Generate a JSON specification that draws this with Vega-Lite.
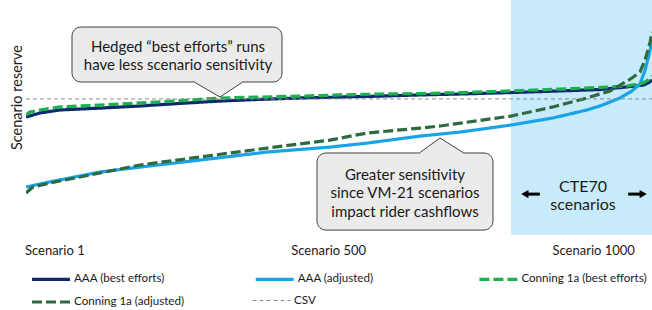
{
  "$schema": "https://vega.github.io/schema/vega-lite/v6.json",
  "width": 626,
  "height": 235,
  "autosize": {"type": "none"},
  "padding": {"left": 26, "top": 0, "right": 0, "bottom": 75},
  "config": {"view": {"stroke": null}, "font": "Lato", "background": "white",
    "legend": {"title": null, "orient": "none", "symbolType": "stroke", "symbolSize": 1444, "labelFont": "Lato", "labelFontSize": 11.6,
      "labelColor": "#1a1a1a", "labelOffset": 2, "labelLimit": 0}},
  "resolve": {"scale": {"color": "independent", "strokeDash": "independent"}},
  "datasets": {
    "series": [
      {"series": "AAA (best efforts)", "scenario": 1, "reserve": 50.2},
      {"series": "AAA (best efforts)", "scenario": 23, "reserve": 51.9},
      {"series": "AAA (best efforts)", "scenario": 55, "reserve": 53.2},
      {"series": "AAA (best efforts)", "scenario": 119, "reserve": 54.0},
      {"series": "AAA (best efforts)", "scenario": 183, "reserve": 54.9},
      {"series": "AAA (best efforts)", "scenario": 247, "reserve": 56.0},
      {"series": "AAA (best efforts)", "scenario": 311, "reserve": 57.0},
      {"series": "AAA (best efforts)", "scenario": 374, "reserve": 57.7},
      {"series": "AAA (best efforts)", "scenario": 438, "reserve": 58.3},
      {"series": "AAA (best efforts)", "scenario": 502, "reserve": 58.7},
      {"series": "AAA (best efforts)", "scenario": 566, "reserve": 59.1},
      {"series": "AAA (best efforts)", "scenario": 630, "reserve": 59.6},
      {"series": "AAA (best efforts)", "scenario": 694, "reserve": 60.0},
      {"series": "AAA (best efforts)", "scenario": 773, "reserve": 60.6},
      {"series": "AAA (best efforts)", "scenario": 853, "reserve": 61.3},
      {"series": "AAA (best efforts)", "scenario": 917, "reserve": 61.9},
      {"series": "AAA (best efforts)", "scenario": 960, "reserve": 63.0},
      {"series": "AAA (best efforts)", "scenario": 986, "reserve": 63.8},
      {"series": "AAA (best efforts)", "scenario": 994, "reserve": 64.7},
      {"series": "AAA (best efforts)", "scenario": 1000, "reserve": 66.0},
      {"series": "AAA (adjusted)", "scenario": 1, "reserve": 20.4},
      {"series": "AAA (adjusted)", "scenario": 39, "reserve": 22.6},
      {"series": "AAA (adjusted)", "scenario": 119, "reserve": 26.8},
      {"series": "AAA (adjusted)", "scenario": 183, "reserve": 28.9},
      {"series": "AAA (adjusted)", "scenario": 279, "reserve": 31.9},
      {"series": "AAA (adjusted)", "scenario": 386, "reserve": 35.3},
      {"series": "AAA (adjusted)", "scenario": 486, "reserve": 37.4},
      {"series": "AAA (adjusted)", "scenario": 545, "reserve": 39.1},
      {"series": "AAA (adjusted)", "scenario": 630, "reserve": 42.1},
      {"series": "AAA (adjusted)", "scenario": 694, "reserve": 43.8},
      {"series": "AAA (adjusted)", "scenario": 775, "reserve": 46.8},
      {"series": "AAA (adjusted)", "scenario": 842, "reserve": 49.8},
      {"series": "AAA (adjusted)", "scenario": 896, "reserve": 53.2},
      {"series": "AAA (adjusted)", "scenario": 917, "reserve": 54.9},
      {"series": "AAA (adjusted)", "scenario": 949, "reserve": 58.3},
      {"series": "AAA (adjusted)", "scenario": 968, "reserve": 61.3},
      {"series": "AAA (adjusted)", "scenario": 981, "reserve": 64.3},
      {"series": "AAA (adjusted)", "scenario": 989, "reserve": 70.2},
      {"series": "AAA (adjusted)", "scenario": 997, "reserve": 78.7},
      {"series": "AAA (adjusted)", "scenario": 1000, "reserve": 83.0},
      {"series": "Conning 1a (best efforts)", "scenario": 1, "reserve": 51.1},
      {"series": "Conning 1a (best efforts)", "scenario": 7, "reserve": 52.3},
      {"series": "Conning 1a (best efforts)", "scenario": 23, "reserve": 53.2},
      {"series": "Conning 1a (best efforts)", "scenario": 55, "reserve": 54.5},
      {"series": "Conning 1a (best efforts)", "scenario": 119, "reserve": 55.3},
      {"series": "Conning 1a (best efforts)", "scenario": 183, "reserve": 56.2},
      {"series": "Conning 1a (best efforts)", "scenario": 247, "reserve": 57.2},
      {"series": "Conning 1a (best efforts)", "scenario": 311, "reserve": 58.3},
      {"series": "Conning 1a (best efforts)", "scenario": 374, "reserve": 58.7},
      {"series": "Conning 1a (best efforts)", "scenario": 438, "reserve": 59.1},
      {"series": "Conning 1a (best efforts)", "scenario": 502, "reserve": 59.6},
      {"series": "Conning 1a (best efforts)", "scenario": 566, "reserve": 60.0},
      {"series": "Conning 1a (best efforts)", "scenario": 630, "reserve": 60.2},
      {"series": "Conning 1a (best efforts)", "scenario": 694, "reserve": 60.6},
      {"series": "Conning 1a (best efforts)", "scenario": 773, "reserve": 61.3},
      {"series": "Conning 1a (best efforts)", "scenario": 853, "reserve": 62.1},
      {"series": "Conning 1a (best efforts)", "scenario": 917, "reserve": 62.8},
      {"series": "Conning 1a (best efforts)", "scenario": 960, "reserve": 63.4},
      {"series": "Conning 1a (best efforts)", "scenario": 986, "reserve": 64.7},
      {"series": "Conning 1a (best efforts)", "scenario": 994, "reserve": 66.0},
      {"series": "Conning 1a (best efforts)", "scenario": 1000, "reserve": 67.7},
      {"series": "Conning 1a (adjusted)", "scenario": 1, "reserve": 17.9},
      {"series": "Conning 1a (adjusted)", "scenario": 12, "reserve": 20.4},
      {"series": "Conning 1a (adjusted)", "scenario": 39, "reserve": 22.1},
      {"series": "Conning 1a (adjusted)", "scenario": 119, "reserve": 26.4},
      {"series": "Conning 1a (adjusted)", "scenario": 183, "reserve": 29.8},
      {"series": "Conning 1a (adjusted)", "scenario": 279, "reserve": 33.2},
      {"series": "Conning 1a (adjusted)", "scenario": 386, "reserve": 37.0},
      {"series": "Conning 1a (adjusted)", "scenario": 486, "reserve": 40.4},
      {"series": "Conning 1a (adjusted)", "scenario": 545, "reserve": 43.4},
      {"series": "Conning 1a (adjusted)", "scenario": 630, "reserve": 45.5},
      {"series": "Conning 1a (adjusted)", "scenario": 662, "reserve": 46.4},
      {"series": "Conning 1a (adjusted)", "scenario": 775, "reserve": 50.6},
      {"series": "Conning 1a (adjusted)", "scenario": 842, "reserve": 54.5},
      {"series": "Conning 1a (adjusted)", "scenario": 896, "reserve": 58.3},
      {"series": "Conning 1a (adjusted)", "scenario": 933, "reserve": 61.3},
      {"series": "Conning 1a (adjusted)", "scenario": 949, "reserve": 63.8},
      {"series": "Conning 1a (adjusted)", "scenario": 968, "reserve": 66.8},
      {"series": "Conning 1a (adjusted)", "scenario": 981, "reserve": 69.4},
      {"series": "Conning 1a (adjusted)", "scenario": 989, "reserve": 74.5},
      {"series": "Conning 1a (adjusted)", "scenario": 997, "reserve": 82.1},
      {"series": "Conning 1a (adjusted)", "scenario": 1000, "reserve": 86.4},
      {"series": "CSV", "scenario": 1, "reserve": 57.9},
      {"series": "CSV", "scenario": 1000, "reserve": 57.9}
    ],
    "cte": [{"scenario": 775, "scenario2": 1000}],
    "xlabels": [
      {"text": "Scenario 1", "scenario": 47, "reserve": -6.8},
      {"text": "Scenario 500", "scenario": 484, "reserve": -6.8},
      {"text": "Scenario 1000", "scenario": 907, "reserve": -6.8}
    ],
    "boxes": [
      {"callout": "hedged", "scenario": 74.4, "scenario2": 409.5, "reserve": 88.5, "reserve2": 65.1},
      {"callout": "sensitivity", "scenario": 465.4, "scenario2": 746.2, "reserve": 34.9, "reserve2": 2.1}
    ],
    "pointers": [
      {"callout": "hedged", "scenario": 270.7, "reserve": 64.9, "reserve2": 66.0},
      {"callout": "hedged", "scenario": 310.6, "reserve": 58.7, "reserve2": 66.0},
      {"callout": "hedged", "scenario": 345.7, "reserve": 64.9, "reserve2": 66.0},
      {"callout": "sensitivity", "scenario": 629.7, "reserve": 35.1, "reserve2": 34.0},
      {"callout": "sensitivity", "scenario": 661.7, "reserve": 41.3, "reserve2": 34.0},
      {"callout": "sensitivity", "scenario": 698.4, "reserve": 35.1, "reserve2": 34.0}
    ],
    "notes": [
      {"text": "Hedged “best efforts” runs", "scenario": 243.6, "reserve": 80.0},
      {"text": "have less scenario sensitivity", "scenario": 243.6, "reserve": 72.3},
      {"text": "Greater sensitivity", "scenario": 605.8, "reserve": 25.5},
      {"text": "since VM-21 scenarios", "scenario": 605.8, "reserve": 17.7},
      {"text": "impact rider cashflows", "scenario": 605.8, "reserve": 9.9}
    ],
    "ctelabel": [
      {"text": "CTE70", "scenario": 889.9, "reserve": 20.4},
      {"text": "scenarios", "scenario": 889.9, "reserve": 12.8}
    ],
    "arrowshafts": [
      {"scenario": 800, "scenario2": 821, "reserve": 17.4},
      {"scenario": 962, "scenario2": 982, "reserve": 17.4}
    ],
    "arrowheads": [
      {"dir": "left", "scenario": 797, "reserve": 17.4},
      {"dir": "right", "scenario": 986, "reserve": 17.4}
    ]
  },
  "layer": [
    {
      "data": {"name": "cte"},
      "mark": {"type": "rect", "color": "#C8EBFB"},
      "encoding": {
        "x": {"field": "scenario", "type": "quantitative", "scale": {"domain": [1, 1000], "nice": false, "zero": false}, "axis": null},
        "x2": {"field": "scenario2"}
      }
    },
    {
      "data": {"name": "series"},
      "transform": [{"filter": "datum.series != 'CSV' && datum.series != 'Conning 1a (adjusted)'"}],
      "mark": {"type": "line", "clip": true, "strokeWidth": 3.2},
      "encoding": {
        "x": {"field": "scenario", "type": "quantitative", "scale": {"domain": [1, 1000], "nice": false, "zero": false}, "axis": null},
        "y": {"field": "reserve", "type": "quantitative", "scale": {"domain": [0, 100], "nice": false, "zero": false},
          "axis": {"title": "Scenario reserve", "labels": false, "ticks": false, "domain": false, "grid": false,
            "titleFont": "Lato", "titleFontSize": 14.5, "titleFontWeight": "normal", "titleColor": "#1a1a1a",
            "titleX": -4.5, "titleY": 97, "titleBaseline": "alphabetic"}},
        "color": {"field": "series", "type": "nominal",
          "scale": {"domain": ["AAA (best efforts)", "AAA (adjusted)", "Conning 1a (best efforts)"],
            "range": ["#0E2A6B", "#1AA3E6", "#1DB04E"]},
          "legend": {"legendX": 4, "legendY": 258, "columns": 3, "direction": "horizontal", "gridAlign": "all",
            "symbolStrokeWidth": 3.2, "columnPadding": 48.7}},
        "strokeDash": {"field": "series", "type": "nominal",
          "scale": {"domain": ["AAA (best efforts)", "AAA (adjusted)", "Conning 1a (best efforts)"],
            "range": [[1, 0], [1, 0], [10, 4]]}}
      }
    },
    {
      "data": {"name": "series"},
      "transform": [{"filter": "datum.series == 'Conning 1a (adjusted)'"}],
      "mark": {"type": "line", "clip": true, "strokeWidth": 3.2},
      "encoding": {
        "x": {"field": "scenario", "type": "quantitative"},
        "y": {"field": "reserve", "type": "quantitative"},
        "color": {"field": "series", "type": "nominal",
          "scale": {"domain": ["Conning 1a (adjusted)"], "range": ["#2E6A40"]},
          "legend": {"legendX": 4, "legendY": 281, "symbolStrokeWidth": 3.2}},
        "strokeDash": {"field": "series", "type": "nominal",
          "scale": {"domain": ["Conning 1a (adjusted)"], "range": [[10, 4]]}}
      }
    },
    {
      "data": {"name": "series"},
      "transform": [{"filter": "datum.series == 'CSV'"}],
      "mark": {"type": "line", "strokeWidth": 1},
      "encoding": {
        "x": {"field": "scenario", "type": "quantitative"},
        "y": {"field": "reserve", "type": "quantitative"},
        "color": {"field": "series", "type": "nominal",
          "scale": {"domain": ["CSV"], "range": ["#8C8C8C"]},
          "legend": {"legendX": 226, "legendY": 281, "symbolStrokeWidth": 1, "labelOffset": 3}},
        "strokeDash": {"field": "series", "type": "nominal",
          "scale": {"domain": ["CSV"], "range": [[4, 3]]}}
      }
    },
    {
      "data": {"name": "xlabels"},
      "mark": {"type": "text", "fontSize": 13, "font": "Lato", "color": "#1a1a1a", "align": "center", "baseline": "middle"},
      "encoding": {
        "x": {"field": "scenario", "type": "quantitative"},
        "y": {"field": "reserve", "type": "quantitative"},
        "text": {"field": "text"}
      }
    },
    {
      "data": {"name": "boxes"},
      "mark": {"type": "rect", "fill": "#EBEBEB", "stroke": "#404040", "strokeWidth": 1, "cornerRadius": 9},
      "encoding": {
        "x": {"field": "scenario", "type": "quantitative"},
        "x2": {"field": "scenario2"},
        "y": {"field": "reserve", "type": "quantitative"},
        "y2": {"field": "reserve2"}
      }
    },
    {
      "data": {"name": "pointers"},
      "mark": {"type": "area", "color": "#EBEBEB", "opacity": 1},
      "encoding": {
        "x": {"field": "scenario", "type": "quantitative"},
        "y": {"field": "reserve", "type": "quantitative"},
        "y2": {"field": "reserve2"},
        "detail": {"field": "callout"}
      }
    },
    {
      "data": {"name": "pointers"},
      "mark": {"type": "line", "color": "#404040", "strokeWidth": 1},
      "encoding": {
        "x": {"field": "scenario", "type": "quantitative"},
        "y": {"field": "reserve", "type": "quantitative"},
        "detail": {"field": "callout"}
      }
    },
    {
      "data": {"name": "notes"},
      "mark": {"type": "text", "fontSize": 15, "font": "Lato", "color": "#1a1a1a", "align": "center", "baseline": "middle"},
      "encoding": {
        "x": {"field": "scenario", "type": "quantitative"},
        "y": {"field": "reserve", "type": "quantitative"},
        "text": {"field": "text"}
      }
    },
    {
      "data": {"name": "ctelabel"},
      "mark": {"type": "text", "fontSize": 16, "font": "Lato", "color": "#1a1a1a", "align": "center", "baseline": "middle"},
      "encoding": {
        "x": {"field": "scenario", "type": "quantitative"},
        "y": {"field": "reserve", "type": "quantitative"},
        "text": {"field": "text"}
      }
    },
    {
      "data": {"name": "arrowshafts"},
      "mark": {"type": "rule", "color": "#000000", "strokeWidth": 3},
      "encoding": {
        "x": {"field": "scenario", "type": "quantitative"},
        "x2": {"field": "scenario2"},
        "y": {"field": "reserve", "type": "quantitative"}
      }
    },
    {
      "data": {"name": "arrowheads"},
      "mark": {"type": "point", "filled": true, "color": "#000000", "opacity": 1, "size": 70},
      "encoding": {
        "x": {"field": "scenario", "type": "quantitative"},
        "y": {"field": "reserve", "type": "quantitative"},
        "shape": {"field": "dir", "type": "nominal", "scale": {"domain": ["left", "right"], "range": ["triangle-left", "triangle-right"]}, "legend": null}
      }
    }
  ]
}
